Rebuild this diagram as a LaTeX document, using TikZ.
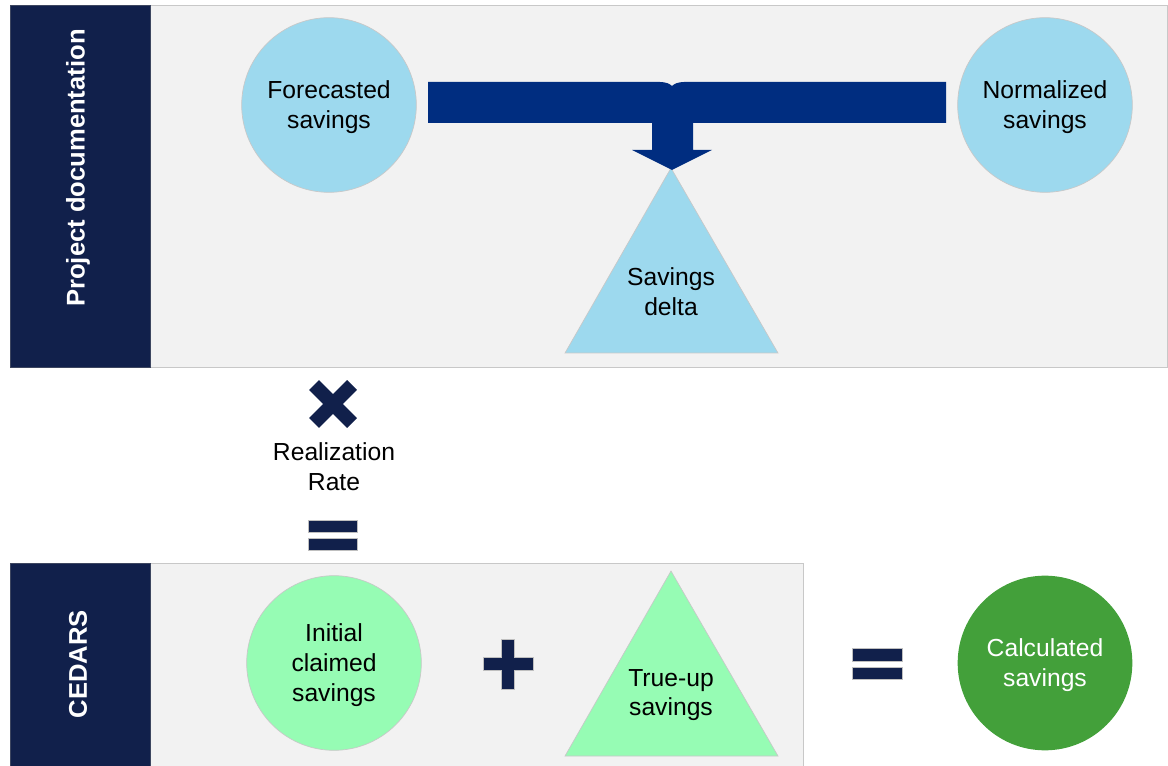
\documentclass[tikz,border=0pt]{standalone}
\usepackage{fontspec}
\setmainfont{Liberation Sans}
\usetikzlibrary{calc}

\definecolor{navy}{RGB}{17,32,75}
\definecolor{arrowblue}{RGB}{0,45,128}
\definecolor{skyblue}{RGB}{157,217,238}
\definecolor{mintgreen}{RGB}{150,252,180}
\definecolor{leafgreen}{RGB}{67,160,58}
\definecolor{panelgray}{RGB}{242,242,242}
\definecolor{panelline}{RGB}{200,200,200}

\begin{document}
\begin{tikzpicture}[x=0.75pt,y=-0.75pt,
    font=\fontsize{18.5}{22.3}\selectfont,
    panel/.style={fill=panelgray,draw=panelline,line width=0.6pt},
    sidebar/.style={fill=navy,draw=navy!60!gray,line width=0.6pt},
    sidetext/.style={rotate=90,text=white,font=\fontsize{19.2}{23}\selectfont\bfseries},
    disc/.style={circle,minimum size=131pt,inner sep=0pt,align=center,fill=#1,draw=panelline,line width=0.5pt},
    wedge/.style={fill=#1,draw=panelline,line width=0.5pt},
    sign/.style={fill=navy,draw=gray!50,line width=0.4pt}]
  % Constants
  \pgfmathsetmacro\r{87}
  % Boundary
  \path[use as bounding box] (0,0) rectangle (1168,766);
  % Panels
  \draw[panel] (10,5) rectangle (1167.5,367);
  \draw[sidebar] (10,5) rectangle (150,367);
  \node[sidetext] (projdoc) at (78,168) {Project documentation};
  \draw[panel] (10,563) rectangle (803,766);
  \draw[sidebar] (10,563) rectangle (150,766);
  \node[sidetext] (cedars) at (78,664) {CEDARS};
  % Project documentation
  \node[disc=skyblue] (forecast) at (329,105) {};
  \node[align=center] (forecasttext) at (329,107) {Forecasted\\savings};
  \node[disc=skyblue] (normal) at (1045,105) {};
  \node[align=center] (normaltext) at (1045,107) {Normalized\\savings};
  \draw[wedge=skyblue] (671,168) -- (778,353) -- (565,353) -- cycle;
  \node[align=center] (delta) at (671,292) {Savings\\delta};
  \fill[arrowblue] (428,82) -- (660,82) .. controls (666,82) and (670,84) .. (672,86)
    .. controls (674,84) and (678,82) .. (684,82) -- (946,82) -- (946,123)
    -- (693,123) -- (693,150) -- (712,150) -- (672,170) -- (632,150)
    -- (652,150) -- (652,123) -- (428,123) -- cycle;
  % Realization rate
  \begin{scope}[shift={(333,404)}]
    \draw[navy,line width=10.5pt] (-19,-19) -- (19,19);
    \draw[navy,line width=10.5pt] (-19,19) -- (19,-19);
  \end{scope}
  \node[align=center] (rate) at (334,467) {Realization\\Rate};
  \draw[sign] (308,520) rectangle (357,532);
  \draw[sign] (308,538) rectangle (357,550);
  % CEDARS
  \node[disc=mintgreen] (initial) at (334,663) {};
  \node[align=center] (initialtext) at (334,665) {Initial\\claimed\\savings};
  \begin{scope}[shift={(508,664)}]
    \draw[sign] (-25,-6.5) -- (-6.5,-6.5) -- (-6.5,-25) -- (6.5,-25) -- (6.5,-6.5)
      -- (25,-6.5) -- (25,6.5) -- (6.5,6.5) -- (6.5,25) -- (-6.5,25) -- (-6.5,6.5)
      -- (-25,6.5) -- cycle;
  \end{scope}
  \draw[wedge=mintgreen] (671,571) -- (778,756) -- (565,756) -- cycle;
  \node[align=center] (trueup) at (671,695) {True-up\\savings};
  \draw[sign] (852,648) rectangle (902,661);
  \draw[sign] (852,667) rectangle (902,679);
  \node[disc=leafgreen,draw=none] (calc) at (1045,663) {};
  \node[align=center,text=white] (calctext) at (1045,665) {Calculated\\savings};
\end{tikzpicture}
\end{document}
